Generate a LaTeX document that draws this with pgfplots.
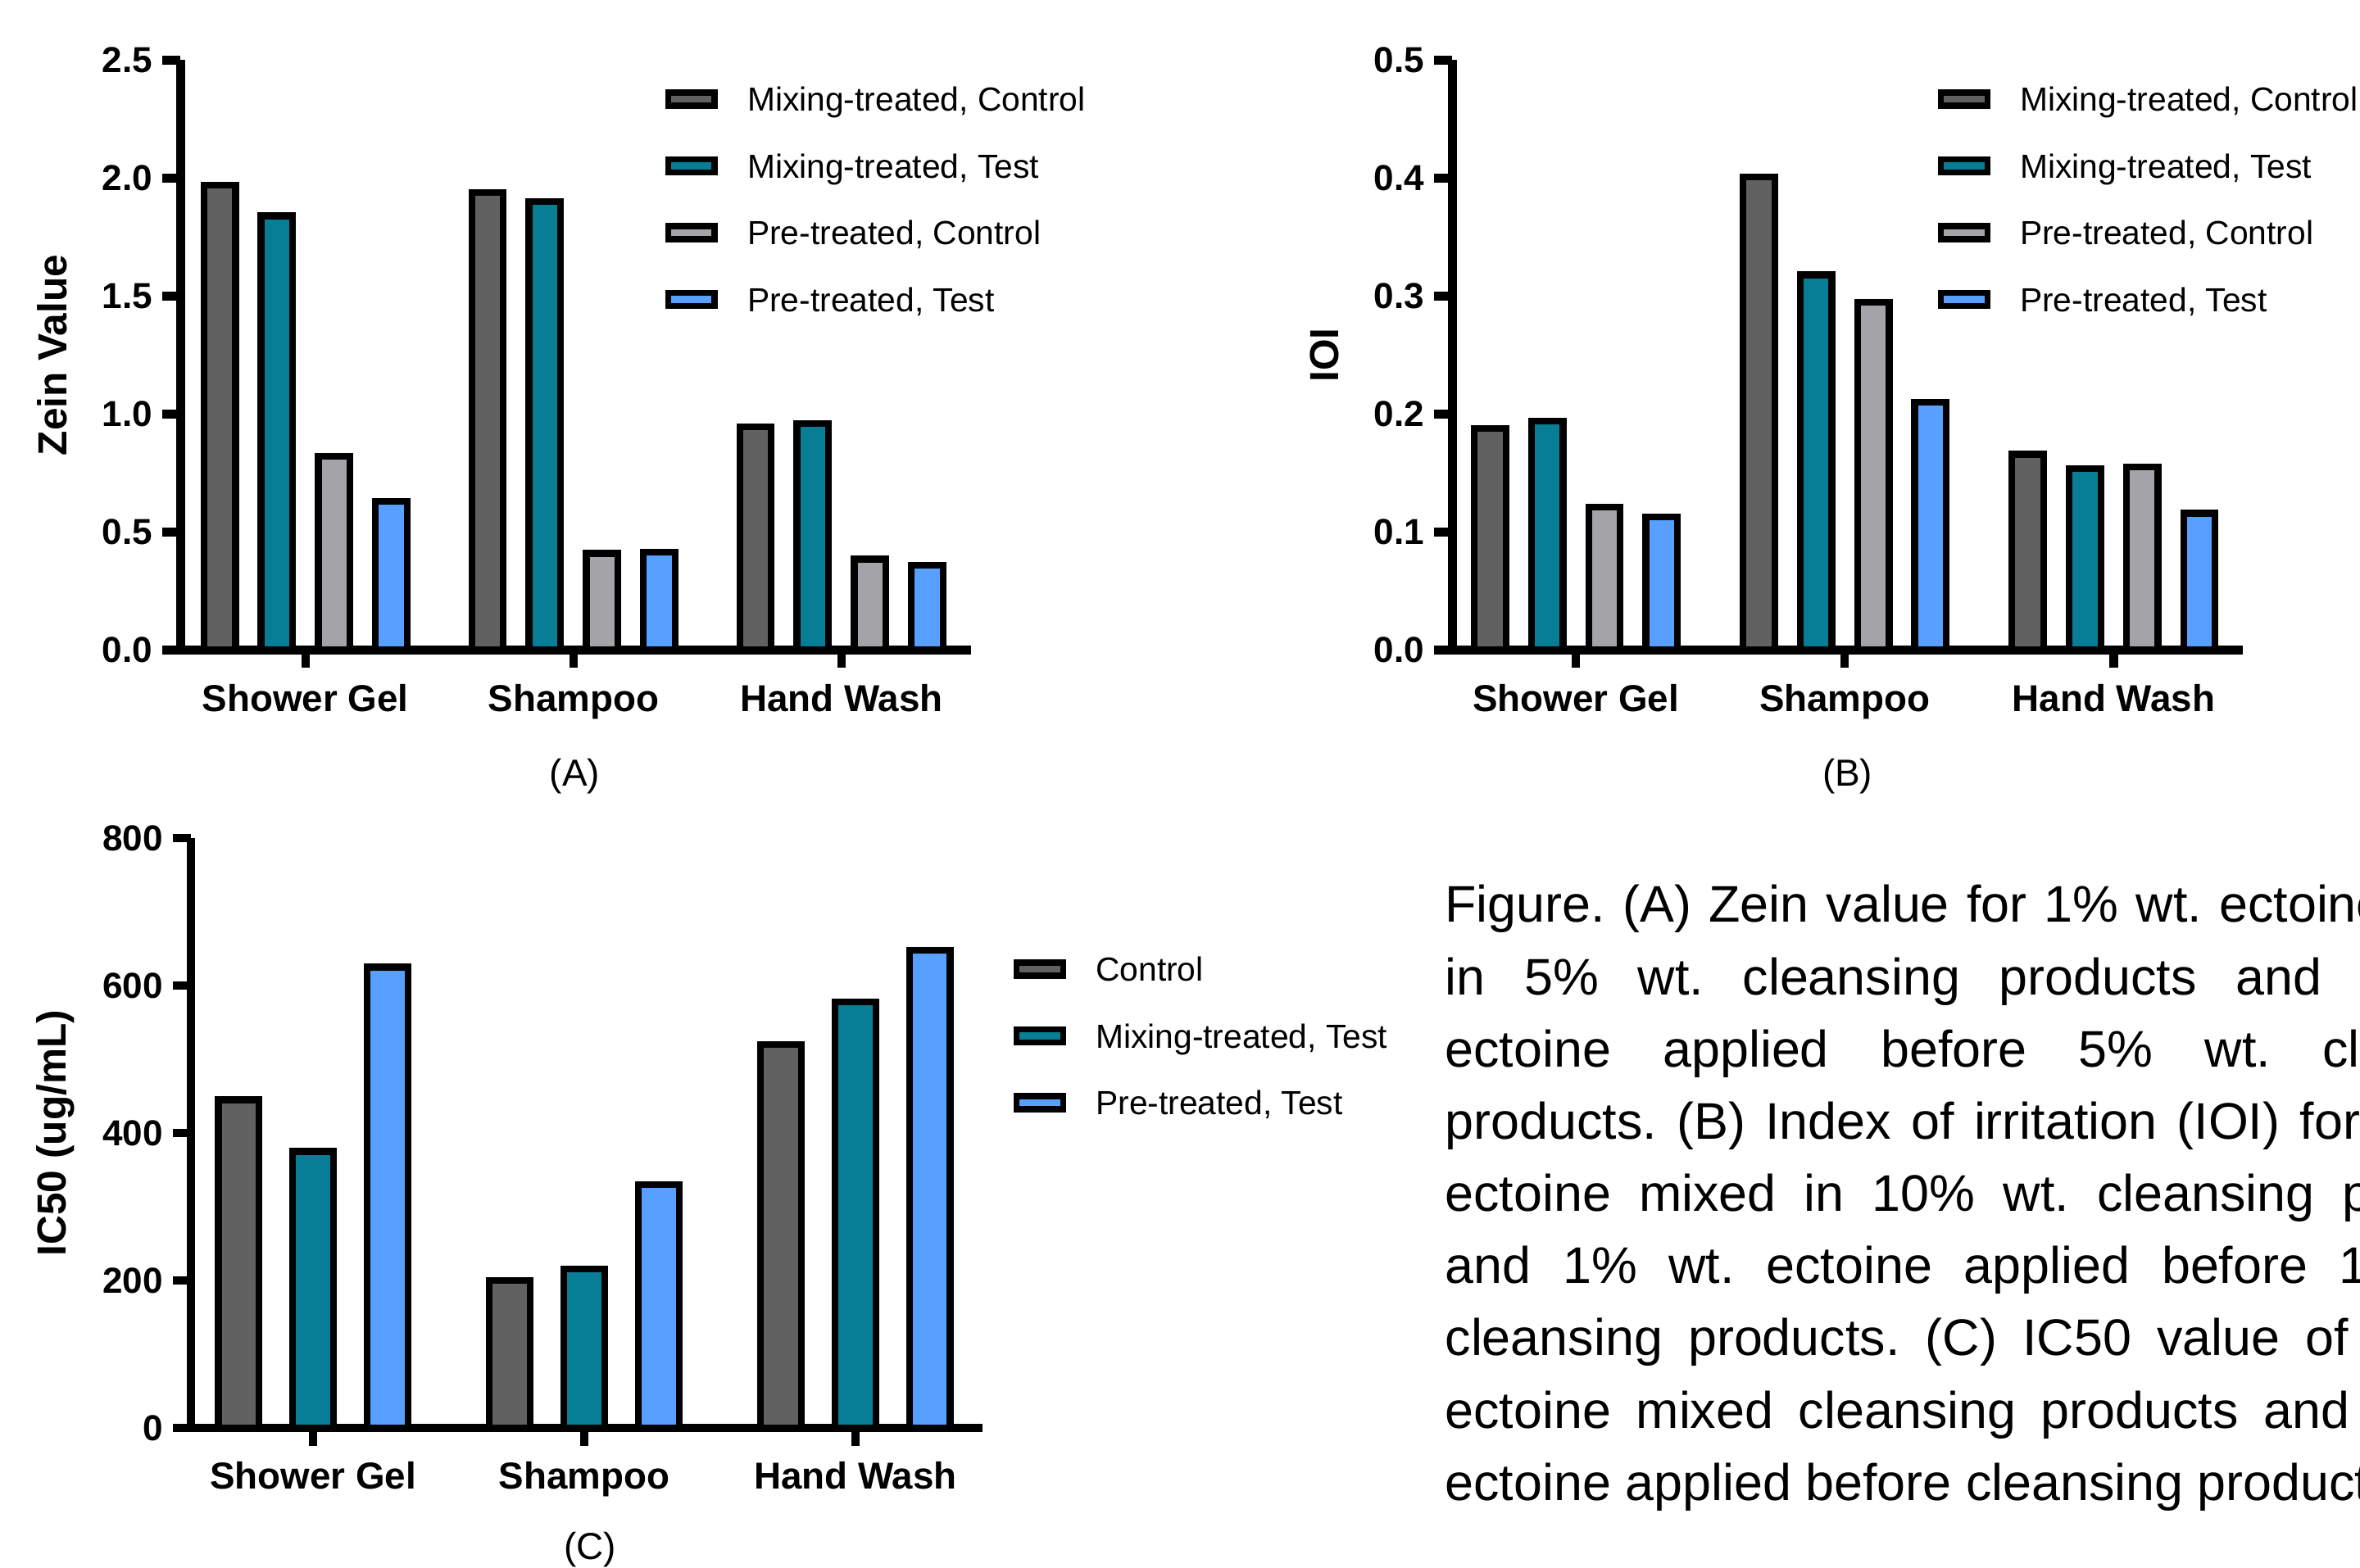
\documentclass[border=0pt]{standalone}
\usepackage{pgfplots}
\pgfplotsset{compat=1.18}
\usepackage{fontspec}
\setmainfont{Liberation Sans}

\definecolor{cdark}{HTML}{616161}
\definecolor{cteal}{HTML}{087E96}
\definecolor{clight}{HTML}{A3A3A8}
\definecolor{cblue}{HTML}{57A0FF}

\pgfplotsset{
  /pgfplots/ybar legend/.style={
    /pgfplots/legend image code/.code={%
      \draw[##1,line width=1.25pt,draw=black] (0pt,-1.3pt) rectangle (9.3pt,1.3pt);
      \path[draw=none,fill=none] (0pt,0pt) -- (15.8pt,0pt);}},
  gp/.style={
    scale only axis,
    width=157.5pt, height=117.6pt,
    axis lines=left,
    axis line style={-, line width=1.7pt, black},
    tick align=outside,
    major tick length=3.6pt,
    tick style={line width=1.7pt, black},
    enlargelimits=false,
    ymin=0,
    xtick={0,1,2},
    xticklabels={Shower Gel,Shampoo,Hand Wash},
    xticklabel style={font=\fontsize{7.47}{8}\selectfont\bfseries, inner sep=0pt, anchor=north, yshift=-3pt},
    yticklabel style={font=\fontsize{7.2}{8}\selectfont\bfseries, inner sep=0pt, anchor=east, xshift=-1.8pt},
    ylabel style={font=\fontsize{8.1}{9}\selectfont\bfseries, rotate=0, anchor=center},
    ybar,
    clip=false,
    legend cell align=left,
    legend style={draw=none, fill=none, inner sep=0pt, outer sep=0pt, anchor=north west, row sep=8.53pt,
      font=\fontsize{6.66}{8}\selectfont, nodes={inner sep=0pt, text height=4.77pt, text depth=0pt, anchor=west}},
    every axis plot/.append style={draw=black, line width=1.35pt},
  }
}

\begin{document}
\frenchspacing
\begin{tikzpicture}
\useasboundingbox (0,0) rectangle (470.4pt,312.6pt);
\clip (0,0) rectangle (470.4pt,312.6pt);

% (A)
\begin{axis}[gp, at={(36pt,183pt)}, anchor=south west,
  xmin=-0.466, xmax=2.483, ymax=2.5,
  ytick={0,0.5,1,1.5,2,2.5}, yticklabels={0.0,0.5,1.0,1.5,2.0,2.5},
  bar width=6.3pt, ybar=5.1pt,
  ylabel={Zein Value}, ylabel style={at={(rel axis cs:-0.162,0.5)}},
  legend style={at={(0.613,0.954)}}]
\addplot[fill=cdark] coordinates {(0,1.97) (1,1.94) (2,0.945)};
\addlegendentry{Mixing-treated, Control}
\addplot[fill=cteal] coordinates {(0,1.84) (1,1.90) (2,0.96)};
\addlegendentry{Mixing-treated, Test}
\addplot[fill=clight] coordinates {(0,0.82) (1,0.41) (2,0.385)};
\addlegendentry{Pre-treated, Control}
\addplot[fill=cblue] coordinates {(0,0.63) (1,0.415) (2,0.36)};
\addlegendentry{Pre-treated, Test}
\node[font=\fontsize{7.5}{9}\selectfont] at (rel axis cs:0.499,-0.214) {(A)};
\end{axis}

% (B)
\begin{axis}[gp, at={(289.5pt,183pt)}, anchor=south west,
  xmin=-0.459, xmax=2.48, ymax=0.5,
  ytick={0,0.1,0.2,0.3,0.4,0.5}, yticklabels={0.0,0.1,0.2,0.3,0.4,0.5},
  bar width=6.3pt, ybar=5.1pt,
  ylabel={IOI}, ylabel style={at={(rel axis cs:-0.162,0.5)}},
  legend style={at={(0.614,0.954)}}]
\addplot[fill=cdark] coordinates {(0,0.188) (1,0.401) (2,0.166)};
\addlegendentry{Mixing-treated, Control}
\addplot[fill=cteal] coordinates {(0,0.194) (1,0.318) (2,0.154)};
\addlegendentry{Mixing-treated, Test}
\addplot[fill=clight] coordinates {(0,0.121) (1,0.295) (2,0.155)};
\addlegendentry{Pre-treated, Control}
\addplot[fill=cblue] coordinates {(0,0.113) (1,0.210) (2,0.116)};
\addlegendentry{Pre-treated, Test}
\node[font=\fontsize{7.5}{9}\selectfont] at (rel axis cs:0.5,-0.214) {(B)};
\end{axis}

% (C)
\begin{axis}[gp, at={(38.1pt,27.9pt)}, anchor=south west, width=157.8pt,
  xmin=-0.45, xmax=2.47, ymax=800,
  ytick={0,200,400,600,800}, yticklabels={0,200,400,600,800},
  bar width=8.1pt, ybar=6.75pt,
  ylabel={IC50 (ug/mL)}, ylabel style={at={(rel axis cs:-0.171,0.5)}},
  legend style={at={(1.0386,0.798)}}]
\addplot[fill=cdark] coordinates {(0,445) (1,200) (2,520)};
\addlegendentry{Control}
\addplot[fill=cteal] coordinates {(0,375) (1,216) (2,578)};
\addlegendentry{Mixing-treated, Test}
\addplot[fill=cblue] coordinates {(0,625) (1,330) (2,648)};
\addlegendentry{Pre-treated, Test}
\node[font=\fontsize{7.5}{9}\selectfont] at (rel axis cs:0.504,-0.2066) {(C)};
\end{axis}

% caption
\begin{scope}[every node/.style={anchor=base west, inner sep=0pt, font=\fontsize{10.26}{12}\selectfont}]
\node at (287.85pt,128.7pt) {\makebox[218.25pt][s]{Figure. (A) Zein value for 1\% wt. ectoine mixed}};
\node at (287.85pt,114.3pt) {\makebox[218.25pt][s]{in 5\% wt. cleansing products and 1\% wt.}};
\node at (287.85pt,99.9pt) {\makebox[218.25pt][s]{ectoine applied before 5\% wt. cleansing}};
\node at (287.85pt,85.5pt) {\makebox[218.25pt][s]{products. (B) Index of irritation (IOI) for 1\% wt.}};
\node at (287.85pt,71.1pt) {\makebox[218.25pt][s]{ectoine mixed in 10\% wt. cleansing products}};
\node at (287.85pt,56.7pt) {\makebox[218.25pt][s]{and 1\% wt. ectoine applied before 10\% wt.}};
\node at (287.85pt,42.3pt) {\makebox[218.25pt][s]{cleansing products. (C) IC50 value of 1\% wt.}};
\node at (287.85pt,27.9pt) {\makebox[218.25pt][s]{ectoine mixed cleansing products and 1\% wt.}};
\node at (287.85pt,13.5pt) {ectoine applied before cleansing products.};
\end{scope}
\end{tikzpicture}
\end{document}
